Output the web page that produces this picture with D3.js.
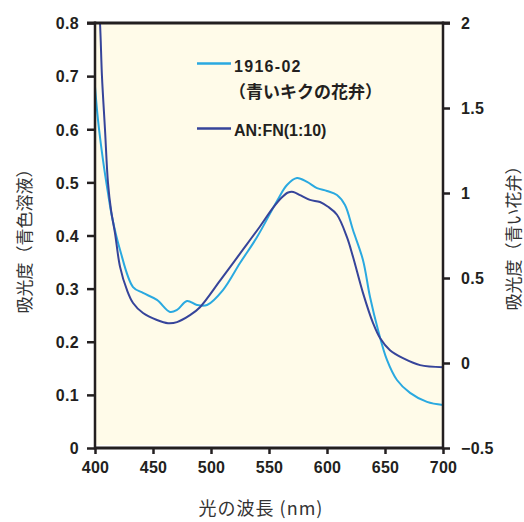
<!DOCTYPE html>
<html>
<head>
<meta charset="utf-8">
<script src="https://cdn.jsdelivr.net/npm/d3@7/dist/d3.min.js"></script>
<style>
  html, body { margin: 0; padding: 0; background: #ffffff; }
  svg { display: block; }
</style>
</head>
<body>
<svg id="chart" width="524" height="522"></svg>
<script>
// ---- Data ----
// AN:FN(1:10) solution — left axis (吸光度（青色溶液）)
const solWavelength = [400, 402, 404.3, 406, 408.6, 411.2, 413.8, 417.2, 421.6, 427.6, 432.8, 441.4, 453.4, 462.9, 470.7, 481.9, 490.5, 507.8, 525, 542.2, 553.4, 561.2, 566.5, 571, 576.7, 585.3, 594, 600.9, 608.6, 617.2, 622.4, 631, 639.7, 645.7, 654.3, 665.5, 680.2, 700];
const solAbs = [1.05, 0.87, 0.80, 0.700, 0.600, 0.499, 0.448, 0.405, 0.341, 0.297, 0.273, 0.254, 0.241, 0.235, 0.237, 0.250, 0.265, 0.315, 0.366, 0.417, 0.452, 0.472, 0.481, 0.482, 0.476, 0.467, 0.463, 0.454, 0.439, 0.397, 0.360, 0.292, 0.235, 0.207, 0.184, 0.169, 0.156, 0.152];

// 1916-02 (青いキクの花弁) — right axis (吸光度（青い花弁）)
const petalWavelength = [400, 402.6, 406.9, 411.2, 414.7, 421.6, 432.8, 441.4, 453.4, 464.7, 470.7, 479.3, 487.9, 496.6, 510.3, 525, 539.7, 556.9, 565.5, 574.1, 582.8, 591.4, 600, 608.6, 615.5, 622.4, 631, 637.1, 644, 651.7, 660.3, 671.6, 686.2, 700];
const petalAbs = [1.624, 1.429, 1.194, 1.0, 0.859, 0.665, 0.447, 0.412, 0.371, 0.300, 0.312, 0.365, 0.341, 0.341, 0.429, 0.588, 0.741, 0.953, 1.047, 1.088, 1.065, 1.029, 1.012, 0.988, 0.929, 0.782, 0.606, 0.388, 0.194, 0.018, -0.100, -0.176, -0.229, -0.247];

const xTicks = [400, 450, 500, 550, 600, 650, 700];
const leftTicks = [0, 0.1, 0.2, 0.3, 0.4, 0.5, 0.6, 0.7, 0.8];
const rightTicks = [-0.5, 0, 0.5, 1, 1.5, 2];
const leftTickLabels = ["0", "0.1", "0.2", "0.3", "0.4", "0.5", "0.6", "0.7", "0.8"];
const rightTickLabels = ["\u22120.5", "0", "0.5", "1", "1.5", "2"];

const seriesNames = ["1916-02", "（青いキクの花弁）", "AN:FN(1:10)"];
const xTitle = "光の波長 (nm)";
const yLeftTitle = "吸光度（青色溶液）";
const yRightTitle = "吸光度（青い花弁）";

// ---- Layout ----
const L = 95, R = 443, T = 23, B = 448;
const colPetal = "#2aa9e0";
const colSol = "#36449a";
const axisCol = "#231f20";

const svg = d3.select("#chart");
const x = d3.scaleLinear().domain([400, 700]).range([L, R]);
const yL = d3.scaleLinear().domain([0, 0.8]).range([B, T]);
const yR = d3.scaleLinear().domain([-0.5, 2]).range([B, T]);

// Background
svg.append("rect").attr("x", L).attr("y", T).attr("width", R - L).attr("height", B - T - 3)
  .attr("fill", "#fffbe9");

svg.append("clipPath").attr("id", "clip")
  .append("rect").attr("x", L).attr("y", T).attr("width", R - L).attr("height", B - T);

const g = svg.append("g").attr("clip-path", "url(#clip)");

const lineSol = d3.line().x((d, i) => x(solWavelength[i])).y(d => yL(d)).curve(d3.curveCatmullRom.alpha(0.5));
const linePetal = d3.line().x((d, i) => x(petalWavelength[i])).y(d => yR(d)).curve(d3.curveCatmullRom.alpha(0.5));

g.append("path").datum(petalAbs).attr("d", linePetal)
  .attr("fill", "none").attr("stroke", colPetal).attr("stroke-width", 2);
g.append("path").datum(solAbs).attr("d", lineSol)
  .attr("fill", "none").attr("stroke", colSol).attr("stroke-width", 2);

// Axes
const tickFont = "'Liberation Sans', Arial, sans-serif";

const axL = svg.append("g").attr("transform", `translate(${L},0)`)
  .call(d3.axisLeft(yL).tickValues(leftTicks).tickFormat((d, i) => leftTickLabels[i]).tickSize(8).tickPadding(8));
const axR = svg.append("g").attr("transform", `translate(${R},0)`)
  .call(d3.axisRight(yR).tickValues(rightTicks).tickFormat((d, i) => rightTickLabels[i]).tickSize(7).tickPadding(11));
const axB = svg.append("g").attr("transform", `translate(0,${B})`)
  .call(d3.axisBottom(x).tickValues(xTicks).tickFormat(d3.format("d")).tickSize(6).tickPadding(8));

[axL, axR, axB].forEach(a => {
  a.select(".domain").remove();
  a.selectAll(".tick line").attr("stroke", axisCol).attr("stroke-width", 2.5);
  a.selectAll(".tick text").attr("fill", axisCol).attr("font-family", tickFont)
    .attr("font-size", 16).attr("font-weight", "bold").attr("letter-spacing", "0.3px");
});
axL.selectAll(".tick text").attr("dy", "0.36em");
axR.selectAll(".tick text").attr("dy", "0.36em");

// Frame lines (left, right, bottom, top)
svg.append("line").attr("x1", L).attr("x2", L).attr("y1", T - 1.5).attr("y2", B + 1.5)
  .attr("stroke", axisCol).attr("stroke-width", 2.5);
svg.append("line").attr("x1", R).attr("x2", R).attr("y1", T - 1.5).attr("y2", B + 1.5)
  .attr("stroke", axisCol).attr("stroke-width", 2.5);
svg.append("line").attr("x1", L).attr("x2", R).attr("y1", B).attr("y2", B)
  .attr("stroke", axisCol).attr("stroke-width", 3);
svg.append("line").attr("x1", L - 8).attr("x2", R + 7).attr("y1", T).attr("y2", T)
  .attr("stroke", axisCol).attr("stroke-width", 3);

// Axis titles
const cjk = "'Noto Sans CJK JP', 'Noto Sans', sans-serif";
svg.append("text").attr("transform", `translate(31,237) rotate(-90)`)
  .attr("text-anchor", "middle").attr("font-family", cjk).attr("font-size", 17)
  .attr("fill", "#333").text(yLeftTitle);
svg.append("text").attr("transform", `translate(520,234) rotate(-90)`)
  .attr("text-anchor", "middle").attr("font-family", cjk).attr("font-size", 17)
  .attr("fill", "#333").text(yRightTitle);
svg.append("text").attr("x", 261).attr("y", 515)
  .attr("text-anchor", "middle").attr("font-family", cjk).attr("font-size", 18)
  .attr("fill", "#333").attr("letter-spacing", "1px").text(xTitle);

// Legend
const leg = svg.append("g");
leg.append("line").attr("x1", 197).attr("x2", 231).attr("y1", 63.5).attr("y2", 63.5)
  .attr("stroke", colPetal).attr("stroke-width", 2.5);
leg.append("text").attr("x", 234).attr("y", 72).attr("font-family", tickFont)
  .attr("font-size", 16).attr("font-weight", "bold").attr("letter-spacing", "1.3px")
  .attr("fill", axisCol).text(seriesNames[0]);
leg.append("text").attr("x", 229).attr("y", 98).attr("font-family", cjk)
  .attr("font-size", 17).attr("font-weight", "bold")
  .attr("fill", axisCol).text(seriesNames[1]);
leg.append("line").attr("x1", 197).attr("x2", 231).attr("y1", 128.5).attr("y2", 128.5)
  .attr("stroke", colSol).attr("stroke-width", 2.5);
leg.append("text").attr("x", 234).attr("y", 136).attr("font-family", tickFont)
  .attr("font-size", 16).attr("font-weight", "bold")
  .attr("fill", axisCol).text(seriesNames[2]);
</script>
</body>
</html>
